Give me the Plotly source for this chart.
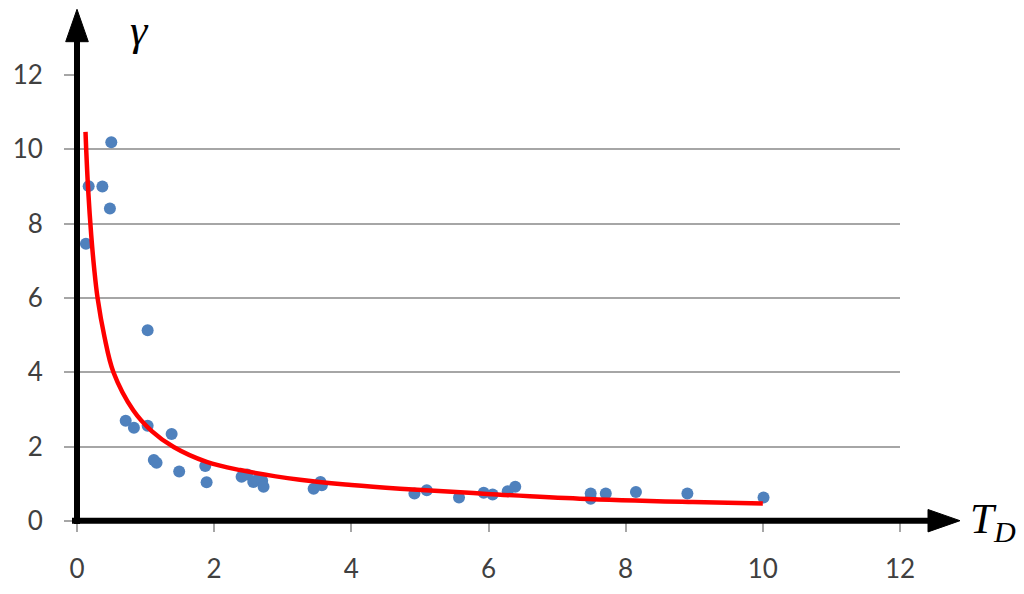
import plotly.graph_objects as go

# Observed points (T_D, gamma)
td_obs = [0.13, 0.17, 0.37, 0.48, 0.50, 1.03, 0.71, 0.83, 1.03, 1.38, 1.12, 1.16,
          1.49, 1.87, 1.89, 2.40, 2.48, 2.57, 2.62, 2.70, 2.72, 3.45, 3.55, 3.57,
          4.92, 5.10, 5.57, 5.93, 6.06, 6.28, 6.39, 7.49, 7.49, 7.71, 8.15, 8.90, 10.01]
gamma_obs = [7.46, 9.01, 9.00, 8.41, 10.19, 5.13, 2.70, 2.51, 2.56, 2.34, 1.64, 1.57,
             1.33, 1.48, 1.04, 1.19, 1.25, 1.05, 1.10, 1.08, 0.92, 0.87, 1.05, 0.96,
             0.74, 0.83, 0.63, 0.76, 0.71, 0.80, 0.92, 0.74, 0.60, 0.74, 0.78, 0.74, 0.63]

# Trend curve
td_fit = [0.124, 0.134, 0.163, 0.207, 0.25, 0.30, 0.40, 0.53, 0.82, 1.09, 1.41, 1.89,
          2.38, 3.25, 4.0, 4.71, 5.88, 7.33, 8.98, 10.0]
gamma_fit = [10.47, 10.0, 8.9, 7.7, 6.8, 6.0, 4.96, 4.01, 2.98, 2.42, 1.99, 1.59,
             1.37, 1.11, 0.97, 0.87, 0.74, 0.60, 0.51, 0.47]

x_ticks = [0, 2, 4, 6, 8, 10, 12]
y_ticks = [0, 2, 4, 6, 8, 10, 12]

fig = go.Figure()
fig.add_trace(go.Scatter(x=td_obs, y=gamma_obs, mode="markers",
                         marker=dict(color="#4f81bd", size=12), showlegend=False,
                         cliponaxis=False))
fig.add_trace(go.Scatter(x=td_fit, y=gamma_fit, mode="lines",
                         line=dict(color="#ff0000", width=4.5, shape="spline", smoothing=1.0),
                         showlegend=False))

OFF = 8  # page body margin
L, R, T, B = 69, 124, 67, 73
W, H = 1024 - OFF, 594 - OFF
pw, ph = W - L - R, H - T - B

def px(xpage):
    return (xpage - OFF - L) / pw

def py(ypage):
    return (OFF + T + ph - ypage) / ph

tick_font = dict(family="Lato, Calibri, sans-serif", size=26, color="#404040")

fig.update_layout(
    width=W, height=H,
    margin=dict(l=L, r=R, t=T, b=B, autoexpand=False),
    paper_bgcolor="white", plot_bgcolor="white",
    xaxis=dict(range=[0, 12], tickvals=x_ticks, showgrid=False, zeroline=False,
               showline=False, ticks="outside", ticklen=10, tickwidth=2,
               tickcolor="#a6a6a6", tickfont=tick_font, ticklabelstandoff=15),
    yaxis=dict(range=[0, 12], tickvals=y_ticks, showgrid=True, gridcolor="#a6a6a6",
               gridwidth=2, zeroline=False, showline=False, ticks="outside",
               ticklen=12, tickwidth=2, tickcolor="#a6a6a6", tickfont=tick_font,
               ticklabelstandoff=16),
)

ax0 = px(77)
ay0 = py(520.7)
shapes = [
    dict(type="line", xref="paper", yref="paper", x0=px(72), x1=px(930), y0=ay0, y1=ay0,
         line=dict(color="black", width=6)),
    dict(type="line", xref="paper", yref="paper", x0=ax0, x1=ax0, y0=py(524), y1=py(40),
         line=dict(color="black", width=6)),
    dict(type="path", xref="paper", yref="paper",
         path=f"M {px(928)} {py(509.5)} L {px(960)} {py(520.7)} L {px(928)} {py(531.9)} Z",
         fillcolor="black", line=dict(color="black", width=1)),
    dict(type="path", xref="paper", yref="paper",
         path=f"M {px(65.7)} {py(41.7)} L {px(77)} {py(9.3)} L {px(88.3)} {py(41.7)} Z",
         fillcolor="black", line=dict(color="black", width=1)),
]
fig.update_layout(shapes=shapes)

fig.add_annotation(xref="paper", yref="paper", x=px(128), y=py(4), text="<i>γ</i>",
                   showarrow=False,
                   font=dict(family="Liberation Serif, serif", size=44, color="black"))
fig.add_annotation(xref="paper", yref="paper", x=px(968), y=py(551), xanchor="left",
                   text="<i>T<sub>D</sub></i>", showarrow=False,
                   font=dict(family="Liberation Serif, serif", size=43, color="black"))

fig.write_html("out.html")
